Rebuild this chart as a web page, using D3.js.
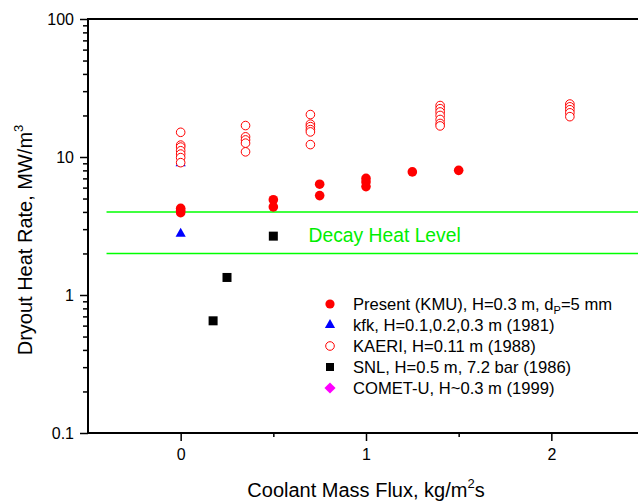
<!DOCTYPE html>
<html>
<head>
<meta charset="utf-8">
<script src="https://cdn.jsdelivr.net/npm/d3@7"></script>
<style>
  body { margin: 0; background: #fff; }
  svg { font-family: Arial, "Liberation Sans", sans-serif; }
</style>
</head>
<body>
<div id="chart"></div>
<script>
// data: [mass flux, dryout heat rate]
var kmuData = [[0, 4.25], [0, 4.1], [0, 3.95], [0.5, 4.9], [0.5, 4.35],
  [0.75, 6.35], [0.75, 5.25], [1.0, 7.0], [1.0, 6.6], [1.0, 6.1], [1.25, 7.8], [1.5, 8.0]];
var kfkData = [[0, 2.78], [0, 9.0]];
var kaeriData = [[0, 15.1], [0, 12.2], [0, 11.8], [0, 11.1], [0, 10.5], [0, 9.9], [0, 9.1],
  [0.35, 16.9], [0.35, 14.0], [0.35, 13.3], [0.35, 12.6], [0.35, 10.9],
  [0.7, 20.3], [0.7, 17.3], [0.7, 16.6], [0.7, 15.8], [0.7, 15.2], [0.7, 12.3],
  [1.4, 23.6], [1.4, 22.4], [1.4, 21.2], [1.4, 20.0], [1.4, 18.7], [1.4, 17.5], [1.4, 16.8],
  [2.1, 24.2], [2.1, 23.1], [2.1, 22.0], [2.1, 20.9], [2.1, 19.6]];
var snlData = [[0.5, 2.67], [0.25, 1.34], [0.175, 0.65]];
var cometData = [];
var decayLevels = [4, 2];
var xMajor = [0, 1, 2];
var xMinor = [0.5, 1.5];
var yMajor = [0.1, 1, 10, 100];
var legendLabels = ["Present (KMU), H=0.3 m, d", "kfk, H=0.1,0.2,0.3 m (1981)", "KAERI, H=0.11 m (1988)",
  "SNL, H=0.5 m, 7.2 bar (1986)", "COMET-U, H~0.3 m (1999)"];

var margin = { top: 19, left: 88 },
  width = 556, height = 414;

var svg = d3.select("#chart").append("svg")
  .attr("width", 638)
  .attr("height", 502);

var g = svg.append("g")
  .attr("transform", "translate(" + margin.left + "," + margin.top + ")");

var x = d3.scaleLinear().domain([-0.5, 2.5]).range([0, width]);
var y = d3.scaleLog().domain([0.1, 100]).range([height, 0]);

var yMinor = [];
[0.1, 1, 10].forEach(function (d) {
  for (var k = 2; k <= 9; k++) yMinor.push(d * k);
});

// minor ticks
g.append("g")
  .call(d3.axisLeft(y).tickValues(yMinor).tickSize(5).tickFormat(""))
  .call(function (a) { a.select(".domain").remove(); })
  .selectAll("line").attr("stroke-width", 1.5);
g.append("g")
  .attr("transform", "translate(0," + height + ")")
  .call(d3.axisBottom(x).tickValues(xMinor).tickSize(4).tickFormat(""))
  .call(function (a) { a.select(".domain").remove(); })
  .selectAll("line").attr("stroke-width", 1.5);

var yAxis = g.append("g")
  .call(d3.axisLeft(y).tickValues(yMajor).tickSize(8).tickPadding(6)
    .tickFormat(function (d) { return d < 1 ? "0.1" : d3.format("d")(d); }));
var xAxis = g.append("g")
  .attr("transform", "translate(0," + height + ")")
  .call(d3.axisBottom(x).tickValues(xMajor).tickSize(8).tickPadding(8).tickFormat(d3.format("d")));

[yAxis, xAxis].forEach(function (a) {
  a.select(".domain").remove();
  a.selectAll("line").attr("stroke-width", 1.5);
  a.selectAll("text").attr("font-size", 16).attr("font-family", "Arial, 'Liberation Sans', sans-serif").attr("fill", "#000");
});

// frame
g.append("rect")
  .attr("width", width).attr("height", height)
  .attr("fill", "none").attr("stroke", "#000").attr("stroke-width", 2);

// decay heat band
g.selectAll(".decay")
  .data(decayLevels)
  .enter().append("line")
  .attr("class", "decay")
  .attr("x1", x(-0.4)).attr("x2", width)
  .attr("y1", function (d) { return y(d); })
  .attr("y2", function (d) { return y(d); })
  .attr("stroke", "#00ff00").attr("stroke-width", 1.5);

g.append("text")
  .attr("x", x(0.69)).attr("y", y(Math.sqrt(8)) + 9.5)
  .attr("font-size", 19.3).attr("fill", "#00ee00")
  .text("Decay Heat Level");

// marks
function tri(s) { return d3.symbol().type(d3.symbolTriangle).size(s)(); }
var diamond = d3.symbol().type(d3.symbolSquare).size(62)();

g.selectAll(".kfk").data(kfkData).enter().append("path")
  .attr("class", "kfk")
  .attr("d", tri(45))
  .attr("transform", function (d) { return "translate(" + x(d[0]) + "," + y(d[1]) + ")"; })
  .attr("fill", "#0000ff");

g.selectAll(".kaeri").data(kaeriData).enter().append("circle")
  .attr("class", "kaeri")
  .attr("cx", function (d) { return x(d[0]); })
  .attr("cy", function (d) { return y(d[1]); })
  .attr("r", 4.3)
  .attr("fill", "#fff").attr("stroke", "#ff0000").attr("stroke-width", 1);

g.selectAll(".kmu").data(kmuData).enter().append("circle")
  .attr("class", "kmu")
  .attr("cx", function (d) { return x(d[0]); })
  .attr("cy", function (d) { return y(d[1]); })
  .attr("r", 4.8)
  .attr("fill", "#ff0000");

g.selectAll(".snl").data(snlData).enter().append("rect")
  .attr("class", "snl")
  .attr("x", function (d) { return x(d[0]) - 4.5; })
  .attr("y", function (d) { return y(d[1]) - 4.5; })
  .attr("width", 9).attr("height", 9)
  .attr("fill", "#000");

g.selectAll(".comet").data(cometData).enter().append("path")
  .attr("d", diamond)
  .attr("transform", function (d) { return "translate(" + x(d[0]) + "," + y(d[1]) + ") rotate(45)"; })
  .attr("fill", "#ff00ff");

// legend
var legend = svg.append("g").attr("transform", "translate(330,304)");
var rows = legend.selectAll(".row")
  .data(legendLabels)
  .enter().append("g")
  .attr("class", "row")
  .attr("transform", function (d, i) { return "translate(0," + (i * 21) + ")"; });

rows.each(function (d, i) {
  var r = d3.select(this);
  if (i === 0) r.append("circle").attr("r", 4.6).attr("fill", "#ff0000");
  if (i === 1) r.append("path").attr("d", tri(45)).attr("fill", "#0000ff");
  if (i === 2) r.append("circle").attr("r", 4.3).attr("fill", "#fff").attr("stroke", "#ff0000");
  if (i === 3) r.append("rect").attr("x", -4).attr("y", -4).attr("width", 8).attr("height", 8).attr("fill", "#000");
  if (i === 4) r.append("path").attr("d", diamond).attr("transform", "rotate(45)").attr("fill", "#ff00ff");
  var t = r.append("text").attr("x", 23).attr("y", 6).attr("font-size", 16.6).text(d);
  if (i === 0) {
    t.append("tspan").attr("font-size", 11).attr("dy", 4).text("P");
    t.append("tspan").attr("dy", -4).text("=5 mm");
  }
});

// axis titles
var xt = svg.append("text")
  .attr("x", 366).attr("y", 497)
  .attr("text-anchor", "middle").attr("font-size", 20)
  .text("Coolant Mass Flux, kg/m");
xt.append("tspan").attr("font-size", 13).attr("dy", -9).text("2");
xt.append("tspan").attr("dy", 9).text("s");

var yt = svg.append("text")
  .attr("transform", "translate(32,240) rotate(-90)")
  .attr("text-anchor", "middle").attr("font-size", 20)
  .text("Dryout Heat Rate, MW/m");
yt.append("tspan").attr("font-size", 13).attr("dy", -9).text("3");
</script>
</body>
</html>
